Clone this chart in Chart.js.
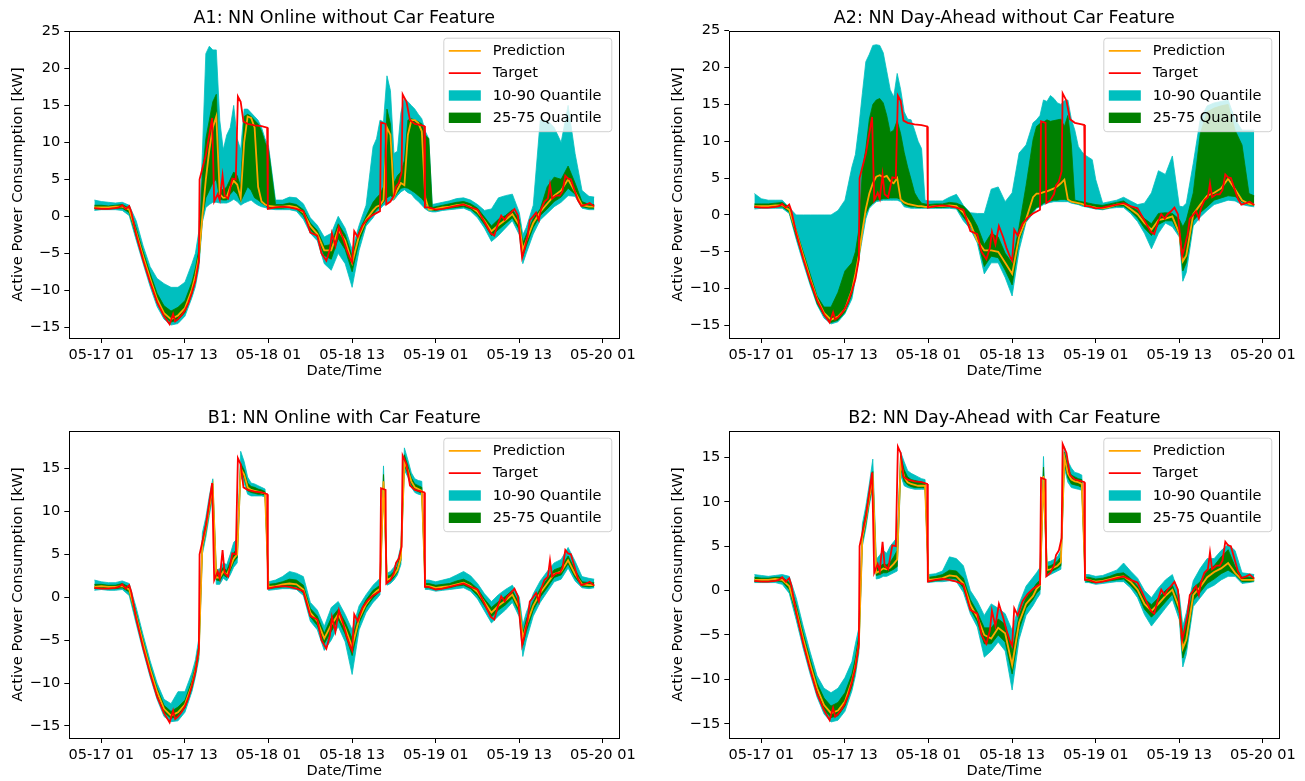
<!DOCTYPE html>
<html>
<head>
<meta charset="utf-8">
<script src="https://cdn.jsdelivr.net/npm/chart.js@4.4.0/dist/chart.umd.min.js"></script>
<style>
body { margin: 0; background: #fff; width: 1305px; height: 781px; overflow: hidden; position: relative; }
canvas { position: absolute; }
</style>
</head>
<body>
<script>
// time axis in hours since 05-17 00:00
var hours = [
    0, 1, 2, 3, 4, 5, 6, 7, 8, 9, 10, 11, 12, 13, 14,
    14.5, 15, 15.5, 16, 16.5, 17, 17.5, 18, 18.5, 19, 19.5, 20, 20.5, 21, 21.5, 22, 22.5, 23, 23.5, 24, 24.5, 25,
    26, 27, 28, 29, 30, 31, 32, 33, 34, 35, 36, 37, 38, 39, 40,
    40.5, 41, 41.5, 42, 42.5, 43, 43.5, 44, 44.5, 45, 45.5, 46, 46.5, 47, 47.5, 48, 48.5,
    49, 50, 51, 52, 53, 54, 55, 56, 57, 58, 59, 60, 61,
    61.5,
    62, 63, 64, 65, 66, 67, 68, 69, 70, 71,
    71.75
];

var targetHours = [
    0, 1, 2, 3, 3.5, 4, 4.5, 5, 5.3, 6,
    7, 8, 9, 10, 10.8, 11.3, 11.6, 12, 12.5, 13,
    13.5, 14, 14.5, 15, 15.1, 16, 16.9, 17.2, 17.7, 18,
    18.4, 18.7, 19.2, 19.8, 20.3, 20.6, 21, 21.4, 22, 23,
    24, 24.8, 24.9, 26, 27, 28, 29, 30, 31, 32,
    32.6, 33.3, 33.8, 34.1, 34.6, 35.1, 35.7, 36.2, 36.7, 37,
    37.3, 37.8, 38.5, 39.2, 40, 41, 41.15, 41.8, 41.9, 42.5,
    43, 43.3, 43.7, 44.1, 44.25, 44.8, 45.3, 46, 47, 47.35,
    47.45, 48, 49, 50, 51, 52, 53, 54, 55, 56.2,
    56.9, 57.4, 57.9, 58.4, 58.9, 59.3, 59.8, 60.3, 60.8, 61,
    61.4, 61.7, 62.2, 62.5, 62.9, 63.4, 63.8, 64.1, 64.6, 65.1,
    65.4, 65.7, 66.3, 66.8, 67.2, 67.6, 68, 68.4, 68.9, 69.4,
    69.9, 70.6, 71.1, 71.75
];
var targetValues = [
    1.1, 1.0, 1.0, 1.1, 1.2, 1.5, 1.0, 1.4, 0.6, -2.5,
    -5.9, -8.9, -11.6, -13.5, -14.6, -13.2, -14.2, -13.9, -13.4, -12.7,
    -11.7, -10.3, -8.7, -6.0, 5.0, 8.3, 13.3, 2.0, 3.0, 2.2,
    5.5, 2.8, 2.4, 5.1, 5.0, 16.2, 15.5, 12.8, 12.5, 12.3,
    12.2, 12.0, 1.0, 1.2, 1.3, 1.2, 1.0, 0.7, -2.2, -2.6,
    -5.0, -6.0, -4.5, -2.3, -4.0, -1.5, -3.0, -4.5, -5.7, -6.2,
    -2.0, -2.8, -1.2, -0.4, 0.2, 0.7, 12.7, 12.5, 1.6, 2.0,
    2.8, 4.0, 4.5, 5.9, 16.5, 15.5, 13.0, 12.5, 12.3, 12.2,
    1.2, 1.2, 0.9, 1.0, 1.2, 1.4, 1.6, 1.2, 0.9, -1.1,
    -2.3, -2.6, -1.1, 0.1, -0.5, 0.1, 0.5, 1.0, 0.1, -1.9,
    -5.6, -4.6, -2.6, -0.5, -0.1, 0.5, -0.5, 0.9, 2.0, 2.4,
    4.3, 2.4, 2.8, 2.8, 3.4, 5.5, 5.1, 5.0, 3.6, 2.2,
    1.4, 1.6, 1.8, 1.35
];

// A1: NN Online without Car Feature
var a1Pred = [
    1.2, 1.2, 1.2, 1.3, 1.3, 0.9, -2.2, -5.4, -8.4, -11.2, -13.1, -13.9, -13.4, -12.4, -9.9,
    -8.0, -5.5, 0.0, 5.0, 9.0, 12.0, 13.5, 3.0, 2.5, 2.6, 4.0, 4.8, 4.3, 2.5, 10.0, 13.5, 13.3, 12.0, 4.0, 2.0, 1.6, 1.4,
    1.3, 1.3, 1.4, 1.2, 0.5, -1.3, -2.4, -4.6, -4.6, -1.8, -3.3, -6.3, -2.6, -0.5, 0.8,
    1.3, 1.5, 2.2, 12.0, 11.0, 2.6, 3.6, 4.5, 4.2, 11.0, 13.0, 13.0, 12.6, 11.5, 2.5, 0.9, 0.9,
    1.0, 1.2, 1.3, 1.5, 1.6, 1.3, 0.6, -0.6, -2.0, -1.2, -0.5, 0.3, -1.2,
    -4.5,
    -3.3, -0.9, 0.6, 1.7, 2.8, 3.5, 5.0, 3.3, 1.5, 1.3,
    1.3
];
var a1Q10 = [
    0.8, 0.9, 0.9, 0.9, 0.8, 0.1, -3.2, -6.4, -9.5, -12.2, -13.9, -14.7, -14.5, -13.5, -11.0,
    -9.5, -7.0, -0.8, 1.2, 1.6, 1.9, 1.9, 1.8, 1.8, 1.8, 2.0, 2.3, 2.0, 1.5, 1.8, 2.0, 2.2, 1.8, 1.5, 1.3, 1.2, 1.0,
    0.9, 0.9, 0.9, 0.7, -0.4, -2.3, -3.3, -6.4, -7.3, -5.0, -6.4, -9.6, -4.6, -1.3, -0.2,
    0.6, 1.0, 1.5, 1.7, 2.2, 2.2, 2.8, 3.3, 3.6, 3.2, 3.0, 2.4, 2.0, 1.5, 1.0, 0.7, 0.6,
    0.6, 0.8, 0.9, 1.0, 1.1, 0.7, -0.2, -1.6, -3.4, -2.6, -1.6, -0.6, -2.5,
    -6.4,
    -5.0, -2.4, -0.5, 0.4, 1.3, 1.9, 2.8, 2.7, 1.1, 0.9,
    0.9
];
var a1Q25 = [
    1.0, 1.0, 1.0, 1.1, 1.1, 0.5, -2.7, -5.9, -8.9, -11.7, -13.5, -14.3, -14.0, -13.0, -10.5,
    -8.7, -6.2, -0.3, 2.5, 3.5, 4.5, 5.0, 2.3, 2.2, 2.2, 3.0, 3.5, 3.0, 2.0, 3.0, 4.0, 3.5, 2.5, 2.2, 1.8, 1.5, 1.2,
    1.1, 1.1, 1.2, 1.0, 0.1, -1.8, -2.8, -5.3, -5.8, -3.0, -4.5, -7.5, -3.4, -0.9, 0.3,
    0.9, 1.3, 1.9, 2.5, 2.8, 2.5, 3.2, 3.8, 3.9, 3.8, 3.5, 3.2, 2.8, 2.4, 1.8, 1.2, 0.8,
    0.8, 1.0, 1.1, 1.2, 1.3, 1.0, 0.2, -1.1, -2.6, -1.8, -1.0, -0.2, -1.8,
    -5.4,
    -4.0, -1.5, 0.1, 1.0, 2.0, 2.6, 3.8, 3.0, 1.3, 1.1,
    1.1
];
var a1Q75 = [
    1.5, 1.5, 1.4, 1.5, 1.6, 1.1, -1.6, -4.8, -7.7, -10.4, -12.1, -12.8, -12.3, -11.4, -8.9,
    -7.0, -4.5, 5.5, 10.5, 13.0, 15.5, 16.5, 4.0, 3.5, 4.0, 5.0, 6.0, 5.5, 4.0, 13.5, 13.8, 13.5, 13.0, 12.5, 11.5, 10.0, 9.0,
    1.6, 1.6, 1.8, 1.6, 0.9, -0.9, -1.9, -4.0, -3.8, -1.0, -2.5, -5.4, -2.0, 0.0, 1.9,
    2.5, 3.0, 4.0, 14.5, 12.5, 4.5, 5.5, 6.0, 7.5, 13.0, 13.2, 13.0, 12.8, 12.5, 11.0, 10.5, 1.2,
    1.3, 1.5, 1.7, 1.9, 2.0, 1.7, 1.1, -0.1, -1.3, -0.4, 0.1, 0.9, -0.5,
    -3.6,
    -2.5, -0.3, 1.0, 4.0, 5.3, 5.0, 6.8, 4.5, 2.0, 1.6,
    1.6
];
var a1Q90 = [
    2.2, 2.0, 1.9, 1.8, 1.9, 1.5, -0.6, -4.0, -6.8, -8.4, -9.1, -9.6, -9.6, -8.9, -6.4,
    -5.0, -2.0, 8.5, 22.0, 23.0, 22.5, 22.5, 13.0, 9.0, 11.0, 12.0, 15.0, 10.5, 9.0, 14.5, 14.5, 14.0, 13.5, 13.0, 12.0, 10.5, 9.5,
    2.2, 2.2, 2.6, 2.5, 1.7, -0.2, -1.2, -2.8, -2.3, 0.0, -1.6, -4.5, -1.2, 1.5, 9.4,
    10.5, 13.0, 12.8, 19.0, 17.0, 8.5, 8.8, 14.0, 16.0, 15.5, 15.0, 14.5, 13.8, 13.2, 11.5, 10.5, 1.6,
    1.7, 1.9, 2.1, 2.4, 2.5, 2.2, 1.6, 0.8, 1.0, 2.5, 2.8, 3.0, 0.5,
    -2.5,
    -1.5, 1.5, 13.0, 13.0, 12.0, 10.0, 15.0, 8.5, 3.5, 2.7,
    2.6
];

// A2: NN Day-Ahead without Car Feature
var a2Pred = [
    1.2, 1.2, 1.2, 1.3, 1.3, 0.7, -2.3, -5.5, -8.6, -11.4, -13.3, -14.2, -13.8, -12.8, -10.2,
    -8.0, -5.5, -2.2, 0.8, 2.9, 4.3, 5.2, 5.4, 5.1, 5.3, 4.6, 4.3, 5.0, 2.1, 1.7, 1.5, 1.4, 1.3, 1.2, 1.2, 1.1, 1.1,
    1.2, 1.2, 1.3, 1.2, 0.3, -1.2, -3.5, -4.8, -4.8, -5.0, -6.5, -8.0, -3.0, -0.6, 2.4,
    2.9, 2.9, 3.1, 3.2, 3.4, 3.6, 3.9, 4.3, 4.8, 2.1, 1.8, 1.7, 1.6, 1.5, 1.3, 1.2, 1.1,
    1.0, 0.9, 1.1, 1.4, 1.5, 0.8, 0.1, -1.1, -2.0, -0.7, -0.5, -0.2, -2.5,
    -6.3,
    -5.5, 0.1, 1.4, 2.6, 3.0, 3.6, 4.9, 3.5, 2.0, 1.5,
    1.4
];
var a2Q10 = [
    0.8, 0.9, 0.9, 0.9, 0.9, 0.2, -3.3, -6.5, -9.5, -12.2, -14.0, -14.8, -14.5, -13.4, -11.4,
    -8.8, -6.0, -3.2, -0.5, 0.9, 1.4, 1.8, 1.9, 2.0, 2.0, 2.0, 2.0, 2.0, 1.8, 1.1, 1.0, 0.9, 0.9, 0.9, 0.9, 0.9, 0.9,
    0.9, 0.9, 0.9, 0.8, -0.8, -1.9, -3.8, -8.0, -6.5, -6.5, -8.5, -11.0, -4.8, -1.0, 0.2,
    0.9, 1.1, 1.4, 1.6, 1.7, 1.8, 1.8, 1.8, 1.8, 1.8, 1.6, 1.5, 1.4, 1.2, 1.1, 1.0, 0.9,
    0.8, 0.7, 0.9, 1.0, 1.0, 0.2, -0.9, -2.5, -4.6, -2.5, -1.1, -1.6, -3.0,
    -9.0,
    -7.8, -1.5, -0.3, 0.6, 1.4, 1.7, 2.0, 1.9, 1.4, 1.2,
    1.1
];
var a2Q25 = [
    1.0, 1.0, 1.0, 1.1, 1.1, 0.4, -2.9, -6.0, -9.2, -12.0, -13.7, -14.6, -14.3, -13.2, -10.8,
    -8.4, -5.6, -2.0, 0.2, 1.1, 1.6, 2.0, 2.1, 2.2, 2.2, 2.3, 2.3, 2.3, 2.1, 1.4, 1.2, 1.1, 1.1, 1.0, 1.0, 1.0, 1.0,
    1.0, 1.0, 1.1, 1.0, -0.3, -1.5, -3.2, -7.0, -5.6, -5.8, -7.5, -9.5, -3.5, -0.8, 0.5,
    1.0, 1.2, 1.6, 1.8, 1.9, 2.0, 2.0, 2.1, 2.1, 2.0, 1.8, 1.6, 1.5, 1.4, 1.2, 1.1, 1.0,
    0.9, 0.8, 1.0, 1.2, 1.2, 0.5, -0.4, -1.8, -2.8, -1.3, -0.8, -0.8, -2.7,
    -7.6,
    -6.5, -0.8, 0.3, 1.1, 2.0, 2.3, 2.6, 2.5, 1.8, 1.4,
    1.3
];
var a2Q75 = [
    1.5, 1.5, 1.5, 1.6, 1.7, 1.0, -2.0, -5.0, -8.0, -11.0, -12.5, -12.5, -10.5, -7.6, -6.5,
    -5.0, -2.0, 6.0, 9.0, 13.0, 15.0, 15.6, 15.8, 15.2, 13.5, 11.2, 11.5, 12.8, 11.0, 8.5, 6.5, 4.8, 3.0, 2.2, 1.6, 1.5, 1.4,
    1.5, 1.5, 1.7, 1.6, 1.2, 0.2, -1.5, -4.0, -2.5, -3.0, -5.2, -6.5, -1.6, 4.0, 10.2,
    12.0, 12.4, 12.6, 12.9, 12.7, 12.8, 12.9, 13.0, 12.0, 13.5, 9.5, 2.0, 1.9, 1.8, 1.7, 1.6, 1.5,
    1.4, 1.3, 1.5, 1.7, 1.9, 1.2, 0.6, -0.5, -1.2, 0.2, 0.3, 0.2, -0.6,
    -1.6,
    -0.7, 3.0, 11.0, 14.0, 14.5, 14.8, 15.0, 11.5, 9.5, 2.9,
    2.6
];
var a2Q90 = [
    2.9, 2.2, 2.0, 2.0, 2.0, 1.0, 0.0, 0.0, 0.0, 0.0, 0.0, 0.0, 0.6, 2.0, 6.5,
    8.2, 12.0, 16.5, 20.8, 21.8, 23.0, 23.1, 23.0, 22.0, 19.5, 17.0, 16.0, 19.2, 17.0, 14.0, 13.0, 12.9, 11.5, 10.0, 9.0, 2.0, 1.9,
    1.9, 1.9, 2.4, 2.8, 1.3, 0.3, 0.2, 0.2, 3.5, 3.8, 1.8, 3.0, 8.4, 9.5, 12.5,
    12.9, 13.5, 15.6, 15.4, 16.2, 15.8, 15.2, 15.0, 15.5, 15.6, 13.0, 11.5, 9.3, 8.6, 8.1, 7.8, 7.5,
    4.8, 1.6, 1.8, 2.0, 2.4, 1.9, 1.4, 1.6, 3.0, 6.0, 5.5, 8.0, 1.2,
    1.1,
    1.6, 7.0, 13.0, 14.8, 15.2, 15.4, 15.6, 13.0, 11.5, 11.5,
    11.5
];

// B1: NN Online with Car Feature
var b1Pred = [
    1.2, 1.3, 1.2, 1.2, 1.3, 0.9, -2.2, -5.4, -8.4, -11.0, -13.0, -13.8, -13.4, -12.5, -10.2,
    -8.5, -6.2, 6.0, 8.0, 10.5, 12.8, 2.3, 2.3, 3.0, 2.6, 3.5, 4.5, 5.0, 15.0, 14.3, 12.8, 12.5, 12.4, 12.3, 12.2, 12.1, 1.2,
    1.3, 1.5, 1.6, 1.5, 0.9, -1.8, -2.8, -4.8, -3.2, -2.0, -3.6, -5.8, -2.5, -0.8, 0.3,
    0.7, 1.0, 13.5, 2.0, 2.2, 2.6, 3.2, 4.6, 15.8, 14.8, 13.5, 12.8, 12.6, 12.4, 1.3, 1.3, 1.2,
    1.1, 1.2, 1.3, 1.5, 1.7, 1.3, 0.6, -0.6, -1.8, -1.0, -0.4, 0.3, -1.3,
    -4.8,
    -3.3, -1.0, 0.5, 1.6, 2.7, 3.0, 4.3, 2.7, 1.5, 1.4,
    1.4
];
var b1Q10 = [
    0.8, 0.9, 0.8, 0.8, 0.9, 0.2, -3.1, -6.3, -9.3, -11.9, -13.9, -14.5, -14.4, -13.4, -11.0,
    -9.3, -7.2, 5.0, 7.0, 9.5, 11.8, 1.5, 1.5, 2.2, 1.9, 2.6, 3.5, 4.0, 14.0, 13.3, 12.0, 11.8, 11.8, 11.8, 11.8, 11.7, 0.8,
    0.9, 1.0, 1.0, 0.9, 0.2, -2.8, -3.8, -6.2, -5.0, -3.4, -5.2, -9.0, -3.8, -1.8, -0.6,
    -0.2, 0.3, 12.5, 1.4, 1.6, 2.0, 2.6, 3.8, 14.8, 14.0, 12.8, 12.2, 12.0, 11.9, 0.9, 0.9, 0.8,
    0.7, 0.8, 0.9, 1.0, 1.1, 0.7, -0.2, -1.6, -3.0, -2.2, -1.5, -0.6, -2.3,
    -6.9,
    -5.0, -2.2, -0.6, 0.6, 1.8, 2.1, 3.4, 1.9, 1.1, 1.0,
    1.1
];
var b1Q25 = [
    1.0, 1.1, 1.0, 1.0, 1.1, 0.6, -2.6, -5.8, -8.8, -11.4, -13.4, -14.1, -13.9, -12.9, -10.6,
    -8.9, -6.7, 5.6, 7.6, 10.1, 12.3, 2.0, 1.9, 2.6, 2.3, 3.1, 4.1, 4.6, 14.6, 13.9, 12.4, 12.2, 12.1, 12.0, 12.0, 11.9, 1.0,
    1.1, 1.2, 1.3, 1.2, 0.5, -2.3, -3.3, -5.4, -4.0, -2.6, -4.3, -6.8, -3.0, -1.2, -0.1,
    0.3, 0.7, 13.0, 1.7, 1.9, 2.3, 2.9, 4.3, 15.4, 14.4, 13.1, 12.5, 12.3, 12.1, 1.1, 1.1, 1.0,
    0.9, 1.0, 1.1, 1.3, 1.4, 1.0, 0.2, -1.0, -2.3, -1.5, -0.9, -0.1, -1.8,
    -5.6,
    -4.0, -1.5, 0.0, 1.1, 2.3, 2.6, 3.9, 2.3, 1.3, 1.2,
    1.3
];
var b1Q75 = [
    1.5, 1.5, 1.4, 1.4, 1.6, 1.2, -1.8, -5.0, -8.0, -10.6, -12.6, -13.3, -12.8, -12.0, -9.7,
    -8.0, -5.6, 6.6, 8.6, 11.0, 13.2, 2.7, 2.8, 3.5, 3.1, 4.1, 5.2, 5.6, 15.6, 14.8, 13.3, 12.9, 12.8, 12.6, 12.5, 12.3, 1.5,
    1.6, 1.8, 2.1, 2.0, 1.4, -1.3, -2.2, -4.2, -2.4, -1.4, -2.9, -4.8, -1.9, -0.3, 0.8,
    1.1, 1.4, 14.3, 2.4, 2.6, 3.0, 3.6, 5.2, 16.6, 15.3, 13.9, 13.2, 13.0, 12.8, 1.6, 1.6, 1.5,
    1.4, 1.5, 1.6, 1.9, 2.1, 1.7, 1.0, -0.2, -1.2, -0.5, 0.1, 0.8, -0.8,
    -4.2,
    -2.6, -0.5, 1.0, 2.1, 3.2, 3.5, 4.8, 3.2, 1.8, 1.7,
    1.7
];
var b1Q90 = [
    2.0, 1.8, 1.7, 1.7, 1.9, 1.6, -1.2, -4.4, -7.4, -10.0, -11.9, -12.4, -11.0, -11.0, -8.8,
    -7.3, -4.8, 7.5, 9.3, 11.8, 13.8, 3.2, 3.3, 4.0, 3.8, 5.0, 6.4, 6.8, 17.0, 15.8, 14.0, 13.3, 13.2, 13.0, 12.8, 12.6, 1.8,
    2.0, 2.4, 3.0, 2.8, 2.4, -0.6, -1.5, -3.4, -1.2, -0.5, -2.0, -3.8, -1.0, 0.3, 1.4,
    1.8, 2.2, 15.3, 2.8, 3.0, 3.5, 4.2, 6.0, 17.4, 16.0, 14.5, 13.8, 13.6, 13.5, 2.0, 2.0, 1.9,
    1.8, 2.0, 2.2, 2.6, 3.0, 2.5, 1.6, 0.4, -0.5, 0.3, 0.9, 1.4, 0.0,
    -3.2,
    -1.8, 0.4, 1.9, 3.0, 4.0, 4.4, 5.8, 4.2, 2.4, 2.2,
    2.1
];

// B2: NN Day-Ahead with Car Feature
var b2Pred = [
    1.2, 1.2, 1.2, 1.3, 1.2, 0.5, -2.2, -5.4, -8.3, -11.0, -12.9, -13.8, -13.5, -12.5, -10.2,
    -8.5, -6.0, 6.0, 8.0, 10.5, 12.5, 2.0, 2.2, 2.5, 2.4, 2.6, 3.0, 3.5, 14.4, 12.8, 12.2, 12.0, 11.9, 11.8, 11.8, 11.8, 1.2,
    1.3, 1.4, 1.7, 1.6, 0.8, -1.6, -3.0, -5.0, -5.4, -4.2, -4.8, -8.4, -3.6, -1.5, -0.6,
    0.2, 0.6, 12.9, 2.3, 2.4, 2.6, 2.8, 3.2, 15.0, 13.2, 12.5, 12.3, 12.2, 12.0, 1.3, 1.2, 1.1,
    1.0, 1.1, 1.3, 1.5, 1.6, 1.0, 0.1, -1.5, -2.3, -1.5, -0.6, 0.1, -2.0,
    -6.5,
    -5.5, -0.5, 0.4, 1.5, 2.1, 2.5, 3.1, 2.0, 1.2, 1.2,
    1.2
];
var b2Q10 = [
    0.9, 0.9, 0.9, 0.9, 0.7, -0.3, -3.3, -6.5, -9.4, -12.0, -13.9, -14.8, -14.6, -13.6, -11.3,
    -9.6, -7.0, 5.0, 7.0, 9.6, 11.6, 1.3, 1.4, 1.6, 1.6, 1.8, 2.0, 2.2, 13.0, 11.8, 11.6, 11.5, 11.4, 11.4, 11.4, 11.4, 0.9,
    1.0, 1.0, 1.1, 1.0, -0.2, -2.6, -4.1, -7.5, -6.8, -5.8, -6.8, -11.2, -5.5, -2.8, -1.7,
    -1.0, -0.4, 11.7, 1.6, 1.8, 2.0, 2.2, 2.4, 13.8, 12.2, 11.6, 11.5, 11.4, 11.3, 0.9, 0.9, 0.8,
    0.7, 0.8, 0.9, 1.0, 1.0, 0.3, -0.8, -2.7, -4.0, -3.0, -2.0, -1.0, -3.3,
    -8.6,
    -7.2, -1.8, -0.8, 0.2, 0.6, 1.2, 1.6, 1.6, 0.8, 0.9,
    1.0
];
var b2Q25 = [
    1.0, 1.0, 1.0, 1.1, 1.0, 0.1, -2.7, -6.0, -8.9, -11.5, -13.4, -14.3, -14.1, -13.0, -10.8,
    -9.0, -6.5, 5.5, 7.5, 10.0, 12.0, 1.7, 1.8, 2.0, 2.0, 2.2, 2.4, 2.7, 13.8, 12.3, 11.9, 11.7, 11.6, 11.6, 11.6, 11.6, 1.0,
    1.1, 1.2, 1.4, 1.3, 0.3, -2.1, -3.5, -6.0, -6.0, -5.0, -5.8, -9.4, -4.4, -2.0, -1.0,
    -0.3, 0.1, 12.3, 1.9, 2.1, 2.3, 2.5, 2.8, 14.4, 12.7, 12.0, 11.9, 11.8, 11.6, 1.1, 1.0, 0.9,
    0.9, 1.0, 1.1, 1.2, 1.3, 0.6, -0.3, -2.1, -3.0, -2.2, -1.3, -0.4, -2.6,
    -7.6,
    -6.4, -1.1, -0.2, 0.8, 1.3, 1.9, 2.3, 1.8, 1.0, 1.0,
    1.1
];
var b2Q75 = [
    1.5, 1.4, 1.4, 1.5, 1.5, 0.9, -1.6, -4.8, -7.7, -10.4, -12.1, -13.0, -12.6, -11.5, -9.4,
    -7.6, -5.0, 6.8, 8.8, 11.2, 13.4, 2.5, 2.7, 3.0, 2.9, 3.2, 3.8, 4.5, 15.2, 13.6, 12.8, 12.5, 12.4, 12.3, 12.2, 12.1, 1.5,
    1.6, 1.8, 2.3, 2.2, 1.4, -1.0, -2.4, -4.2, -4.2, -3.2, -3.8, -6.8, -2.8, -0.8, 0.2,
    0.8, 1.2, 13.9, 2.7, 2.8, 3.0, 3.3, 3.8, 15.6, 13.8, 13.0, 12.8, 12.6, 12.5, 1.5, 1.5, 1.4,
    1.3, 1.4, 1.6, 1.9, 2.0, 1.4, 0.5, -0.9, -1.6, -0.8, 0.0, 0.6, -1.4,
    -5.0,
    -3.8, 0.3, 1.0, 2.2, 2.8, 3.8, 4.6, 2.7, 1.5, 1.5,
    1.4
];
var b2Q90 = [
    1.8, 1.7, 1.6, 1.7, 1.8, 1.6, -0.8, -4.0, -6.9, -9.6, -11.0, -11.5, -11.0, -9.8, -8.0,
    -6.0, -4.2, 7.5, 9.5, 12.0, 14.8, 3.5, 4.0, 4.5, 4.2, 5.0, 5.5, 6.0, 15.6, 14.5, 13.5, 13.2, 13.0, 12.8, 12.6, 12.5, 1.8,
    1.9, 2.2, 3.8, 3.6, 2.8, 0.0, -1.2, -2.8, -1.5, -2.0, -2.6, -4.5, -1.5, 0.5, 1.5,
    2.0, 2.6, 15.1, 3.2, 3.3, 3.5, 3.8, 4.5, 16.2, 14.6, 13.8, 13.3, 13.2, 13.0, 1.8, 1.8, 1.7,
    1.6, 1.7, 2.0, 2.3, 3.1, 2.2, 1.4, 0.0, -0.8, 0.3, 1.2, 1.8, -0.5,
    -4.0,
    -2.5, 1.1, 2.5, 3.6, 3.6, 4.5, 5.2, 4.5, 2.0, 1.9,
    1.8
];

var tickHours = [1, 13, 25, 37, 49, 61, 73];
var tickLabels = ["05-17 01", "05-17 13", "05-18 01", "05-18 13", "05-19 01", "05-19 13", "05-20 01"];
var aTicks = [-15, -10, -5, 0, 5, 10, 15, 20, 25];
var bTicks = [-15, -10, -5, 0, 5, 10, 15];
var legendNames = ["Prediction", "Target", "10-90 Quantile", "25-75 Quantile"];

var ORANGE = "#ffa500", RED = "#ff0000", CYAN = "#00bfbf", GREEN = "#008000";

Chart.defaults.font.family = "'DejaVu Sans', sans-serif";
Chart.defaults.color = "#000";

function pts(xs, ys) {
    var out = [];
    for (var i = 0; i < xs.length; i++) {
        out.push({x: xs[i], y: ys[i]});
    }
    return out;
}

// matplotlib style legend in the upper right corner of the axes
var boxLegend = {
    id: "boxLegend",
    afterDatasetsDraw: function (chart) {
        var ctx = chart.ctx;
        var ca = chart.chartArea;
        var w = 168, h = 93.5;
        var x0 = ca.right - 7.5 - w;
        var y0 = ca.top + 7.5;
        ctx.save();
        ctx.beginPath();
        ctx.roundRect(x0, y0, w, h, 3);
        ctx.fillStyle = "rgba(255,255,255,0.8)";
        ctx.fill();
        ctx.strokeStyle = "rgba(204,204,204,0.9)";
        ctx.lineWidth = 1;
        ctx.stroke();
        var colors = [ORANGE, RED, CYAN, GREEN];
        ctx.font = "14.6px 'DejaVu Sans'";
        ctx.textBaseline = "middle";
        for (var i = 0; i < 4; i++) {
            var ry = y0 + 12.7 + i * 22.3;
            if (i < 2) {
                ctx.strokeStyle = colors[i];
                ctx.lineWidth = 1.8;
                ctx.beginPath();
                ctx.moveTo(x0 + 5, ry);
                ctx.lineTo(x0 + 37, ry);
                ctx.stroke();
            } else {
                ctx.fillStyle = colors[i];
                ctx.fillRect(x0 + 5, ry - 5.2, 32, 10.4);
            }
            ctx.fillStyle = "#000";
            ctx.fillText(legendNames[i], x0 + 49, ry + 0.5);
        }
        ctx.restore();
    }
};

// axes frame and a title centred over the plot area (like matplotlib)
var frame = {
    id: "frame",
    afterDraw: function (chart, args, opts) {
        var ca = chart.chartArea;
        var ctx = chart.ctx;
        ctx.save();
        ctx.strokeStyle = "#000";
        ctx.lineWidth = 1;
        ctx.strokeRect(Math.round(ca.left) + 0.5, Math.round(ca.top) + 0.5,
                Math.round(ca.right) - Math.round(ca.left), Math.round(ca.bottom) - Math.round(ca.top));
        ctx.fillStyle = "#000";
        ctx.font = "17.5px 'DejaVu Sans'";
        ctx.textAlign = "center";
        ctx.textBaseline = "middle";
        ctx.fillText(opts.text, (ca.left + ca.right) / 2, 18);
        ctx.restore();
    }
};

var panels = [
    {title: "A1: NN Online without Car Feature", left: 0, top: 0, width: 655, height: 390, padRight: 35.7,
        xAxisH: 52, xTitlePad: 10.2, yMin: -16.45, yMax: 25.1, yTicks: aTicks,
        pred: a1Pred, q10: a1Q10, q25: a1Q25, q75: a1Q75, q90: a1Q90},
    {title: "A2: NN Day-Ahead without Car Feature", left: 660, top: 0, width: 645, height: 390, padRight: 25.7,
        xAxisH: 52, xTitlePad: 10.2, yMin: -16.7, yMax: 25.0, yTicks: aTicks,
        pred: a2Pred, q10: a2Q10, q25: a2Q25, q75: a2Q75, q90: a2Q90},
    {title: "B1: NN Online with Car Feature", left: 0, top: 400, width: 655, height: 381, padRight: 35.7,
        xAxisH: 43, xTitlePad: 1.2, yMin: -16.4, yMax: 19.4, yTicks: bTicks,
        pred: b1Pred, q10: b1Q10, q25: b1Q25, q75: b1Q75, q90: b1Q90},
    {title: "B2: NN Day-Ahead with Car Feature", left: 660, top: 400, width: 645, height: 381, padRight: 25.7,
        xAxisH: 43, xTitlePad: 1.2, yMin: -16.6, yMax: 18.0, yTicks: bTicks,
        pred: b2Pred, q10: b2Q10, q25: b2Q25, q75: b2Q75, q90: b2Q90}
];

function minusSign(v) {
    return v < 0 ? "\u2212" + Math.abs(v) : "" + v;
}

function drawPanel(p) {
    var canvas = document.createElement("canvas");
    canvas.width = p.width;
    canvas.height = p.height;
    canvas.style.left = p.left + "px";
    canvas.style.top = p.top + "px";
    canvas.style.width = p.width + "px";
    canvas.style.height = p.height + "px";
    document.body.appendChild(canvas);

    var lineBase = {pointRadius: 0, tension: 0, fill: false};
    new Chart(canvas, {
        type: "line",
        data: {
            datasets: [
                Object.assign({label: "Target", data: pts(targetHours, targetValues), borderColor: RED, borderWidth: 1.8, order: 0}, lineBase),
                Object.assign({label: "Prediction", data: pts(hours, p.pred), borderColor: ORANGE, borderWidth: 1.8, order: 1}, lineBase),
                Object.assign({label: "q25", data: pts(hours, p.q25), borderColor: GREEN, borderWidth: 0.8, order: 2}, lineBase),
                Object.assign({}, lineBase, {label: "25-75 Quantile", data: pts(hours, p.q75), borderColor: GREEN, backgroundColor: GREEN, borderWidth: 0.8, fill: "-1", order: 3}),
                Object.assign({label: "q10", data: pts(hours, p.q10), borderColor: CYAN, borderWidth: 0.8, order: 4}, lineBase),
                Object.assign({}, lineBase, {label: "10-90 Quantile", data: pts(hours, p.q90), borderColor: CYAN, backgroundColor: CYAN, borderWidth: 0.8, fill: "-1", order: 5})
            ]
        },
        options: {
            responsive: false,
            animation: false,
            devicePixelRatio: 1,
            layout: {padding: {left: 0, right: p.padRight, top: 30.7, bottom: 0}},
            plugins: {
                legend: {display: false},
                tooltip: {enabled: false},
                title: {display: false},
                frame: {text: p.title}
            },
            scales: {
                x: {
                    type: "linear",
                    min: -3.6,
                    max: 75.35,
                    afterBuildTicks: function (scale) {
                        scale.ticks = tickHours.map(function (v) { return {value: v}; });
                    },
                    afterFit: function (scale) {
                        scale.height = p.xAxisH;
                    },
                    ticks: {
                        autoSkip: false,
                        maxRotation: 0,
                        minRotation: 0,
                        padding: 3,
                        color: "#000",
                        font: {size: 14.6},
                        callback: function (value) {
                            return tickLabels[tickHours.indexOf(value)];
                        }
                    },
                    grid: {drawOnChartArea: false, drawTicks: true, tickLength: 5, color: "#000"},
                    border: {display: false},
                    title: {display: true, text: "Date/Time", color: "#000", font: {size: 14.6}, padding: {top: 0, bottom: p.xTitlePad}}
                },
                y: {
                    type: "linear",
                    min: p.yMin,
                    max: p.yMax,
                    afterBuildTicks: function (scale) {
                        scale.ticks = p.yTicks.map(function (v) { return {value: v}; });
                    },
                    afterFit: function (scale) {
                        scale.width = 69.3;
                    },
                    ticks: {
                        padding: 4,
                        color: "#000",
                        font: {size: 14.6},
                        callback: function (value) {
                            return minusSign(value);
                        }
                    },
                    grid: {drawOnChartArea: false, drawTicks: true, tickLength: 5, color: "#000"},
                    border: {display: false},
                    title: {display: true, text: "Active Power Consumption [kW]", color: "#000", font: {size: 14.6}, padding: {top: 9.7, bottom: 0}}
                }
            }
        },
        plugins: [boxLegend, frame]
    });
}

panels.forEach(function (p) {
    drawPanel(p);
});
</script>
</body>
</html>
